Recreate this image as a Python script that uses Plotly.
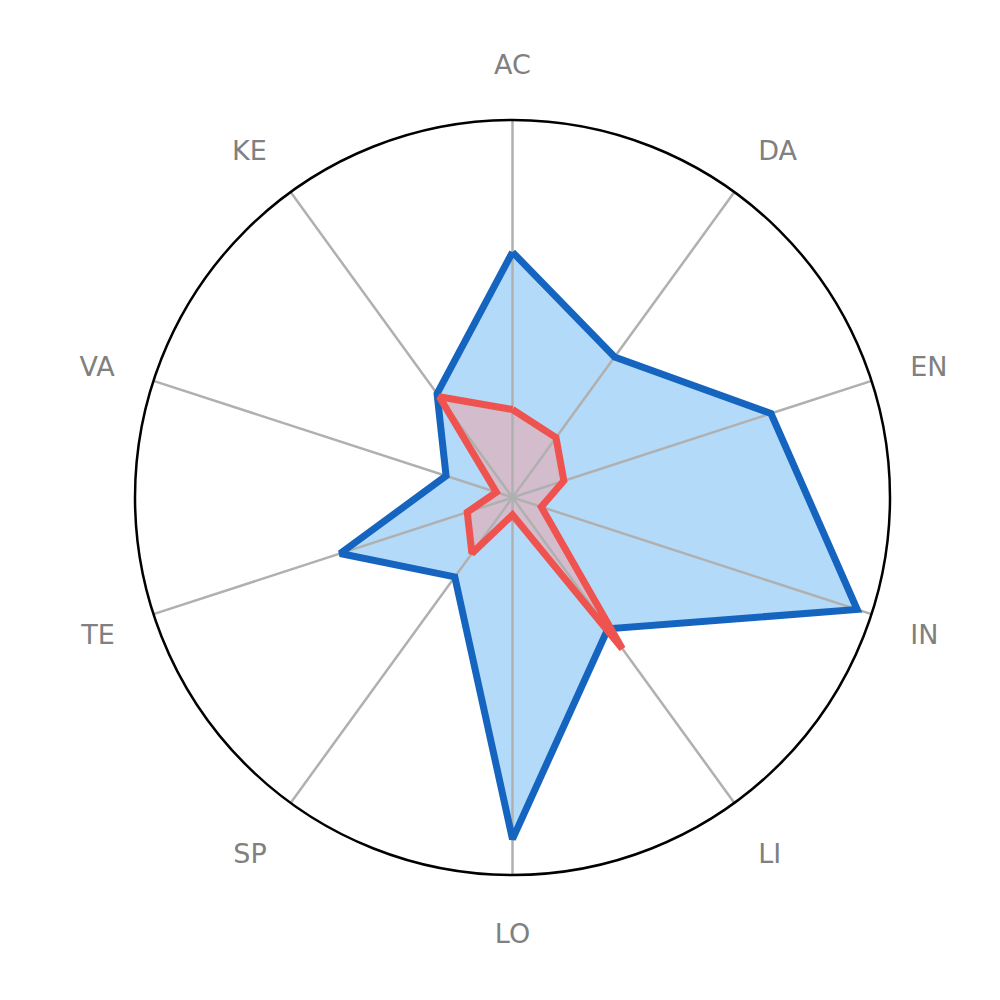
import plotly.graph_objects as go

categories = ["AC", "DA", "EN", "IN", "LI", "LO", "SP", "TE", "VA", "KE"]
series_blue = [0.65, 0.46, 0.72, 0.96, 0.43, 0.905, 0.26, 0.48, 0.185, 0.34]
series_red = [0.233, 0.196, 0.143, 0.08, 0.495, 0.046, 0.183, 0.126, 0.045, 0.33]

def closed(vals):
    return list(vals) + [vals[0]]

theta_c = closed(categories)

fig = go.Figure()
fig.add_trace(go.Scatterpolar(r=closed(series_blue), theta=theta_c, mode="lines",
                              fill="toself", fillcolor="#b3dbf9",
                              line=dict(width=0, color="rgba(0,0,0,0)"),
                              hoverinfo="skip", showlegend=False))
fig.add_trace(go.Scatterpolar(r=closed(series_red), theta=theta_c, mode="lines",
                              fill="toself", fillcolor="#d3bdcc",
                              line=dict(width=0, color="rgba(0,0,0,0)"),
                              hoverinfo="skip", showlegend=False))
sp_r, sp_t = [], []
for c in categories:
    sp_r += [0, 1, None]
    sp_t += [c, c, None]
fig.add_trace(go.Scatterpolar(r=sp_r, theta=sp_t, mode="lines",
                              line=dict(color="#b0b0b0", width=2.5),
                              connectgaps=False, hoverinfo="skip", showlegend=False))
fig.add_trace(go.Scatterpolar(r=closed(series_blue), theta=theta_c, mode="lines",
                              line=dict(color="#1565c0", width=7),
                              showlegend=False))
fig.add_trace(go.Scatterpolar(r=closed(series_red), theta=theta_c, mode="lines",
                              line=dict(color="#ef5350", width=7),
                              showlegend=False))

fig.update_layout(
    width=1000, height=1000,
    paper_bgcolor="white", plot_bgcolor="white",
    margin=dict(l=0, r=0, t=0, b=0),
    polar=dict(
        domain=dict(x=[0.127, 0.882], y=[0.133, 0.888]),
        bgcolor="white",
        radialaxis=dict(range=[0, 1], visible=False, showgrid=False),
        angularaxis=dict(categoryorder="array", categoryarray=categories,
                         direction="clockwise", rotation=90,
                         showgrid=False, showticklabels=True,
                         ticks="outside", ticklen=34, tickcolor="rgba(0,0,0,0)",
                         tickfont=dict(family="DejaVu Sans", size=27, color="#808080"),
                         showline=True, linecolor="black", linewidth=2.5),
    ),
)

fig.write_html("out.html")
